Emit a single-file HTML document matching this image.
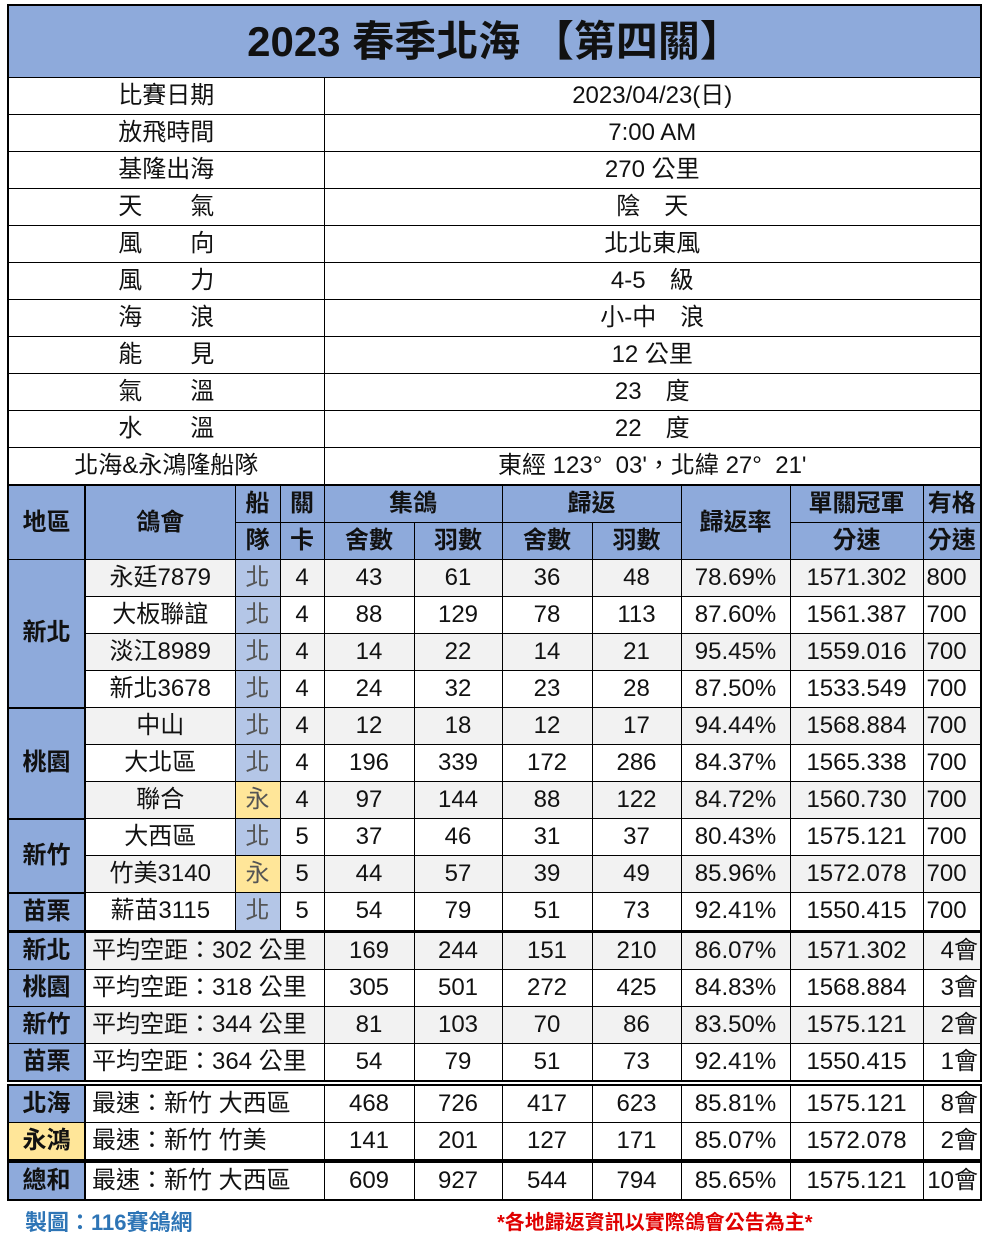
<!DOCTYPE html>
<html><head><meta charset="utf-8">
<style>
body{margin:0;width:990px;height:1242px;background:#fff;position:relative;overflow:hidden;font-family:"Liberation Sans","Noto Sans CJK TC",sans-serif;}
table{position:absolute;left:7px;border-collapse:collapse;table-layout:fixed;width:975px;border:2px solid #000;}
td{border:1px solid #000;text-align:center;font-size:24px;color:#111;padding:0;white-space:nowrap;overflow:hidden;line-height:1;}
.h{background:#8eaadb;font-weight:bold;}
.b{background:#b4c6e7;color:#555;}
.y{background:#ffe699;color:#555;}
.g td{background:#f2f2f2;}
.g td.b{background:#b4c6e7}.g td.y{background:#ffe699}.g td.h{background:#8eaadb}
.l{text-align:left;padding-left:6px;}
.r2 td{height:36px;}
td.reg,.g td.reg{background:#8eaadb;font-weight:bold;border-right:2px solid #000;}
td.regy{background:#ffe699 !important;}
</style></head><body>
<table style="top:4px">
<colgroup><col style="width:316px"><col></colgroup>
<tr><td colspan="2" class="h" style="height:71px;font-size:42px;">2023 春季北海 【第四關】</td></tr>
<tr class="r2"><td>比賽日期</td><td>2023/04/23(日)</td></tr>
<tr class="r2"><td>放飛時間</td><td>7:00 AM</td></tr>
<tr class="r2"><td>基隆出海</td><td>270 公里</td></tr>
<tr class="r2"><td>天　　氣</td><td>陰　天</td></tr>
<tr class="r2"><td>風　　向</td><td>北北東風</td></tr>
<tr class="r2"><td>風　　力</td><td>4-5　級</td></tr>
<tr class="r2"><td>海　　浪</td><td>小-中　浪</td></tr>
<tr class="r2"><td>能　　見</td><td>12 公里</td></tr>
<tr class="r2"><td>氣　　溫</td><td>23　度</td></tr>
<tr class="r2"><td>水　　溫</td><td>22　度</td></tr>
<tr class="r2"><td>北海&amp;永鴻隆船隊</td><td>東經 123°&nbsp;&nbsp;03'，北緯 27°&nbsp;&nbsp;21'</td></tr>
</table>

<table style="top:484px">
<colgroup><col style="width:77px"><col style="width:150px"><col style="width:45px"><col style="width:44px"><col style="width:90px"><col style="width:88px"><col style="width:90px"><col style="width:89px"><col style="width:109px"><col style="width:133px"><col></colgroup>
<tr class="r2"><td rowspan="2" class="reg">地區</td><td rowspan="2" class="h">鴿會</td><td class="h">船</td><td class="h">關</td><td colspan="2" class="h">集鴿</td><td colspan="2" class="h">歸返</td><td rowspan="2" class="h">歸返率</td><td class="h">單關冠軍</td><td class="h">有格</td></tr>
<tr class="r2"><td class="h">隊</td><td class="h">卡</td><td class="h">舍數</td><td class="h">羽數</td><td class="h">舍數</td><td class="h">羽數</td><td class="h">分速</td><td class="h">分速</td></tr>
<tr class="r2 g"><td rowspan="4" class="reg">新北</td><td>永廷7879</td><td class="b">北</td><td>4</td><td>43</td><td>61</td><td>36</td><td>48</td><td>78.69%</td><td>1571.302</td><td class="l" style="padding-left:3px">800</td></tr>
<tr class="r2"><td>大板聯誼</td><td class="b">北</td><td>4</td><td>88</td><td>129</td><td>78</td><td>113</td><td>87.60%</td><td>1561.387</td><td class="l" style="padding-left:3px">700</td></tr>
<tr class="r2 g"><td>淡江8989</td><td class="b">北</td><td>4</td><td>14</td><td>22</td><td>14</td><td>21</td><td>95.45%</td><td>1559.016</td><td class="l" style="padding-left:3px">700</td></tr>
<tr class="r2"><td>新北3678</td><td class="b">北</td><td>4</td><td>24</td><td>32</td><td>23</td><td>28</td><td>87.50%</td><td>1533.549</td><td class="l" style="padding-left:3px">700</td></tr>
<tr class="r2 g"><td rowspan="3" class="reg" style="border-top:2px solid #000">桃園</td><td>中山</td><td class="b">北</td><td>4</td><td>12</td><td>18</td><td>12</td><td>17</td><td>94.44%</td><td>1568.884</td><td class="l" style="padding-left:3px">700</td></tr>
<tr class="r2"><td>大北區</td><td class="b">北</td><td>4</td><td>196</td><td>339</td><td>172</td><td>286</td><td>84.37%</td><td>1565.338</td><td class="l" style="padding-left:3px">700</td></tr>
<tr class="r2 g"><td>聯合</td><td class="y">永</td><td>4</td><td>97</td><td>144</td><td>88</td><td>122</td><td>84.72%</td><td>1560.730</td><td class="l" style="padding-left:3px">700</td></tr>
<tr class="r2"><td rowspan="2" class="reg" style="border-top:2px solid #000">新竹</td><td>大西區</td><td class="b">北</td><td>5</td><td>37</td><td>46</td><td>31</td><td>37</td><td>80.43%</td><td>1575.121</td><td class="l" style="padding-left:3px">700</td></tr>
<tr class="r2 g"><td>竹美3140</td><td class="y">永</td><td>5</td><td>44</td><td>57</td><td>39</td><td>49</td><td>85.96%</td><td>1572.078</td><td class="l" style="padding-left:3px">700</td></tr>
<tr class="r2"><td class="reg" style="border-top:2px solid #000">苗栗</td><td>薪苗3115</td><td class="b">北</td><td>5</td><td>54</td><td>79</td><td>51</td><td>73</td><td>92.41%</td><td>1550.415</td><td class="l" style="padding-left:3px">700</td></tr>
</table>

<table style="top:931px">
<colgroup><col style="width:77px"><col style="width:239px"><col style="width:90px"><col style="width:88px"><col style="width:90px"><col style="width:89px"><col style="width:109px"><col style="width:133px"><col></colgroup>
<tr class="r2 g"><td class="reg">新北</td><td class="l">平均空距：302 公里</td><td>169</td><td>244</td><td>151</td><td>210</td><td>86.07%</td><td>1571.302</td><td style="text-align:right;padding-right:2px">4會</td></tr>
<tr class="r2"><td class="reg">桃園</td><td class="l">平均空距：318 公里</td><td>305</td><td>501</td><td>272</td><td>425</td><td>84.83%</td><td>1568.884</td><td style="text-align:right;padding-right:2px">3會</td></tr>
<tr class="r2 g"><td class="reg">新竹</td><td class="l">平均空距：344 公里</td><td>81</td><td>103</td><td>70</td><td>86</td><td>83.50%</td><td>1575.121</td><td style="text-align:right;padding-right:2px">2會</td></tr>
<tr class="r2"><td class="reg">苗栗</td><td class="l">平均空距：364 公里</td><td>54</td><td>79</td><td>51</td><td>73</td><td>92.41%</td><td>1550.415</td><td style="text-align:right;padding-right:2px">1會</td></tr>
</table>

<table style="top:1084px">
<colgroup><col style="width:77px"><col style="width:239px"><col style="width:90px"><col style="width:88px"><col style="width:90px"><col style="width:89px"><col style="width:109px"><col style="width:133px"><col></colgroup>
<tr class="r2"><td class="reg">北海</td><td class="l">最速：新竹 大西區</td><td>468</td><td>726</td><td>417</td><td>623</td><td>85.81%</td><td>1575.121</td><td style="text-align:right;padding-right:2px">8會</td></tr>
<tr class="r2"><td class="reg regy">永鴻</td><td class="l">最速：新竹 竹美</td><td>141</td><td>201</td><td>127</td><td>171</td><td>85.07%</td><td>1572.078</td><td style="text-align:right;padding-right:2px">2會</td></tr>
</table>

<table style="top:1161px">
<colgroup><col style="width:77px"><col style="width:239px"><col style="width:90px"><col style="width:88px"><col style="width:90px"><col style="width:89px"><col style="width:109px"><col style="width:133px"><col></colgroup>
<tr class="r2"><td class="reg">總和</td><td class="l">最速：新竹 大西區</td><td>609</td><td>927</td><td>544</td><td>794</td><td>85.65%</td><td>1575.121</td><td style="text-align:right;padding-right:2px">10會</td></tr>
</table>

<div style="position:absolute;left:25px;top:1205px;font-size:22px;font-weight:bold;color:#2e75b6;">製圖：116賽鴿網</div>
<div style="position:absolute;left:497px;top:1206px;font-size:20px;font-weight:bold;color:#e00000;">*各地歸返資訊以實際鴿會公告為主*</div>
</body></html>
